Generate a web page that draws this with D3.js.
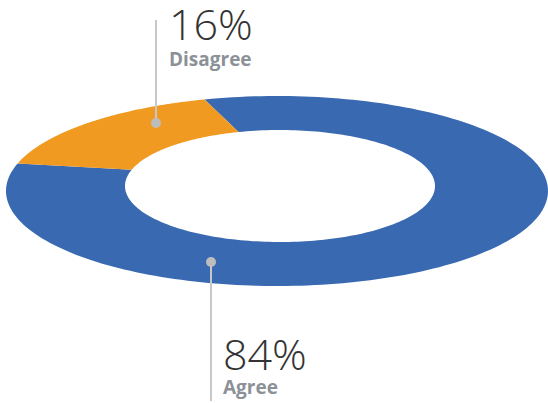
<!DOCTYPE html>
<html><head><meta charset="utf-8">
<script src="https://cdn.jsdelivr.net/npm/d3@7"></script>
<style>html,body{margin:0;padding:0;background:#fff;}</style>
</head><body>
<svg id="c" width="548" height="403"></svg>
<script>
const categories = ["Agree", "Disagree"];
const values = [84, 16];
const labels = ["84%", "16%"];
const colors = ["#3869B1", "#F09A21"];

const svg = d3.select("#c");
const outer = {cx: 277, cy: 191, rx: 271, ry: 95};
const inner = {cx: 280, cy: 186, rx: 155, ry: 56};
const startDeg = -15.5;

const pie = d3.pie().sort(null)
  .startAngle(startDeg * Math.PI / 180)
  .endAngle(startDeg * Math.PI / 180 + 2 * Math.PI);
const arcs = pie(values);

function ept(e, a) { return [e.cx + e.rx * Math.sin(a), e.cy - e.ry * Math.cos(a)]; }
function slicePath(d) {
  const n = 200, pts = [];
  for (let i = 0; i <= n; i++) pts.push(ept(outer, d.startAngle + (d.endAngle - d.startAngle) * i / n));
  for (let i = n; i >= 0; i--) pts.push(ept(inner, d.startAngle + (d.endAngle - d.startAngle) * i / n));
  return d3.line()(pts) + "Z";
}

svg.selectAll("path.slice").data(arcs).join("path")
  .attr("class", "slice")
  .attr("d", slicePath)
  .attr("fill", (d, i) => colors[i]);

const labelInfo = [
  {lineEnd: 401, tx: 223, ty1: 370, ty2: 394},
  {lineEnd: 20, tx: 169, ty1: 40, ty2: 66}
];
const dots = [[211, 262], [156, 123]];

arcs.forEach((d, i) => {
  const [x, y] = dots[i];
  const L = labelInfo[i];
  svg.append("line").attr("x1", x).attr("x2", x).attr("y1", y).attr("y2", L.lineEnd)
    .attr("stroke", "#c8c8c8").attr("stroke-width", 2);
  svg.append("circle").attr("cx", x).attr("cy", y).attr("r", 5).attr("fill", "#bdbdbd");
  svg.append("text").attr("x", L.tx).attr("y", L.ty1).text(labels[i])
    .attr("font-family", "'Open Sans', sans-serif").attr("font-weight", 300)
    .attr("font-size", 43).attr("fill", "#333");
  svg.append("text").attr("x", L.tx).attr("y", L.ty2).text(categories[i])
    .attr("font-family", "'Open Sans', sans-serif").attr("font-weight", 700)
    .attr("font-size", 19).attr("fill", "#8c9198");
});
</script>
</body></html>
